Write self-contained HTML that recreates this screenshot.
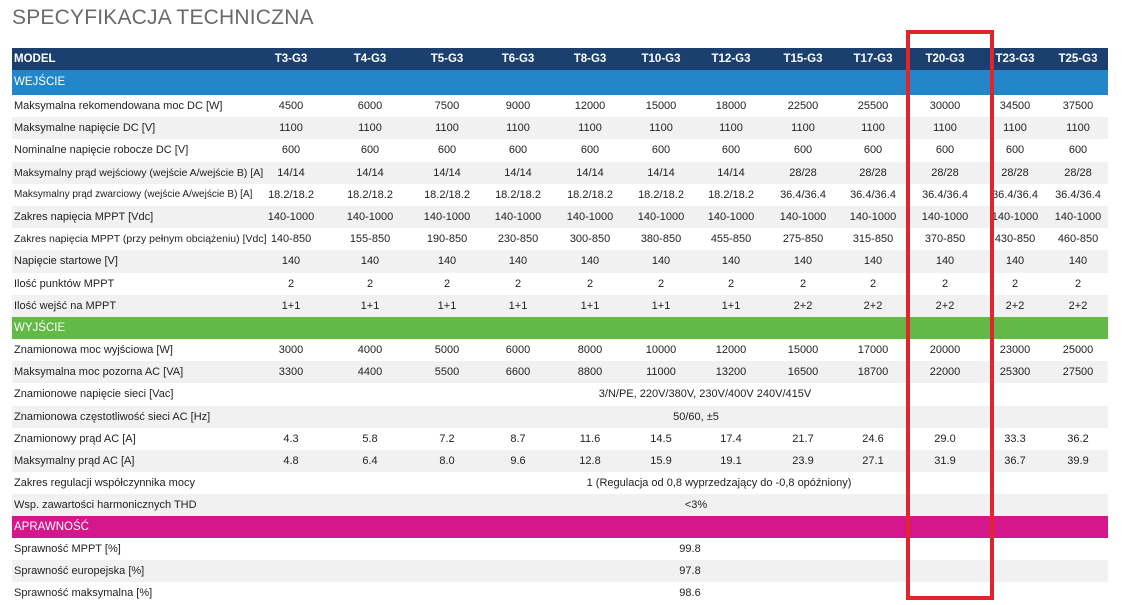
<!DOCTYPE html>
<html><head><meta charset="utf-8"><style>
body{margin:0;width:1133px;height:605px;background:#fff;overflow:hidden;font-family:"Liberation Sans",sans-serif;position:relative}
.t{position:absolute;left:12px;top:6px;font-size:21px;color:#6a6a6a;letter-spacing:0.2px}
.r{position:absolute;left:12px;width:1096px;font-size:11px;color:#222}
.r span{position:absolute;top:0;white-space:nowrap}
.lab{left:2px}
.c{transform:translateX(-50%)}
.hdr{background:#1b3f6f;color:#fff;font-weight:bold;font-size:11.5px}
.sec{color:#fff;font-size:11.5px}
.g{background:#f1f1f1}
.box{position:absolute;left:906px;top:30px;width:80px;height:562px;border:4px solid #e0262b}
</style></head><body>
<div class="t">SPECYFIKACJA TECHNICZNA</div>
<div id="tbl"></div>
<div class="box"></div>
<script>
const models=["T3-G3","T4-G3","T5-G3","T6-G3","T8-G3","T10-G3","T12-G3","T15-G3","T17-G3","T20-G3","T23-G3","T25-G3"];
const colX=[291,370,447,518,590,661,731,803,873,945,1015,1078];
const rows=[
["sec","WEJŚCIE","#2286c9",70,25],
["d","Maksymalna rekomendowana moc DC [W]",["4500","6000","7500","9000","12000","15000","18000","22500","25500","30000","34500","37500"]],
["d","Maksymalne napięcie DC [V]",["1100","1100","1100","1100","1100","1100","1100","1100","1100","1100","1100","1100"]],
["d","Nominalne napięcie robocze DC [V]",["600","600","600","600","600","600","600","600","600","600","600","600"]],
["d","Maksymalny prąd wejściowy (wejście A/wejście B) [A]",["14/14","14/14","14/14","14/14","14/14","14/14","14/14","28/28","28/28","28/28","28/28","28/28"],10.5],
["d","Maksymalny prąd zwarciowy (wejście A/wejście B) [A]",["18.2/18.2","18.2/18.2","18.2/18.2","18.2/18.2","18.2/18.2","18.2/18.2","18.2/18.2","36.4/36.4","36.4/36.4","36.4/36.4","36.4/36.4","36.4/36.4"],10],
["d","Zakres napięcia MPPT [Vdc]",["140-1000","140-1000","140-1000","140-1000","140-1000","140-1000","140-1000","140-1000","140-1000","140-1000","140-1000","140-1000"]],
["d","Zakres napięcia MPPT (przy pełnym obciążeniu) [Vdc]",["140-850","155-850","190-850","230-850","300-850","380-850","455-850","275-850","315-850","370-850","430-850","460-850"],10.5],
["d","Napięcie startowe [V]",["140","140","140","140","140","140","140","140","140","140","140","140"]],
["d","Ilość punktów MPPT",["2","2","2","2","2","2","2","2","2","2","2","2"]],
["d","Ilość wejść na MPPT",["1+1","1+1","1+1","1+1","1+1","1+1","1+1","2+2","2+2","2+2","2+2","2+2"]],
["sec","WYJŚCIE","#62b946",317,22],
["d","Znamionowa moc wyjściowa [W]",["3000","4000","5000","6000","8000","10000","12000","15000","17000","20000","23000","25000"]],
["d","Maksymalna moc pozorna AC [VA]",["3300","4400","5500","6600","8800","11000","13200","16500","18700","22000","25300","27500"]],
["m","Znamionowe napięcie sieci [Vac]","3/N/PE, 220V/380V, 230V/400V 240V/415V",705],
["m","Znamionowa częstotliwość sieci AC [Hz]","50/60, ±5",696],
["d","Znamionowy prąd AC [A]",["4.3","5.8","7.2","8.7","11.6","14.5","17.4","21.7","24.6","29.0","33.3","36.2"]],
["d","Maksymalny prąd AC [A]",["4.8","6.4","8.0","9.6","12.8","15.9","19.1","23.9","27.1","31.9","36.7","39.9"]],
["m","Zakres regulacji współczynnika mocy","1 (Regulacja od 0,8 wyprzedzający do -0,8 opóźniony)",719],
["m","Wsp. zawartości harmonicznych THD","<3%",696],
["sec","APRAWNOŚĆ","#d6178b",516,22],
["m","Sprawność MPPT [%]","99.8",690],
["m","Sprawność europejska [%]","97.8",690],
["m","Sprawność maksymalna [%]","98.6",690]
];
const tbl=document.getElementById('tbl');
function mk(cls,top,h){const d=document.createElement('div');d.className='r '+cls;d.style.top=top+'px';d.style.height=h+'px';d.style.lineHeight=h+'px';tbl.appendChild(d);return d;}
function sp(p,txt,cls,x){const s=document.createElement('span');s.className=cls;s.textContent=txt;if(x!=null)s.style.left=(x-12)+'px';p.appendChild(s);return s;}
const hd=mk('hdr',48,22);


const hl=sp(hd,'MODEL','lab');


models.forEach((m,i)=>{const s=sp(hd,m,'c',colX[i]);

});
let y=0,idx=0;
rows.forEach(r=>{
 if(r[0]=='sec'){y=r[3];const d=mk('sec',y,r[4]);d.style.background=r[2];
  
  
  sp(d,r[1],'lab');y+=r[4];idx=0;return;}
 const h=22.2;const d=mk(idx%2?'g':'',y,h);
 
 
 const l=sp(d,r[1],'lab');if(r[3]&&r[0]=='d')l.style.fontSize=r[3]+'px';
 
 
 if(r[0]=='d'){r[2].forEach((v,i)=>{const s=sp(d,v,'c',colX[i]);
  
  });}
 else{const s=sp(d,r[2],'c',r[3]);
  
  }
 y+=h;idx++;
});
</script>
</body></html>
